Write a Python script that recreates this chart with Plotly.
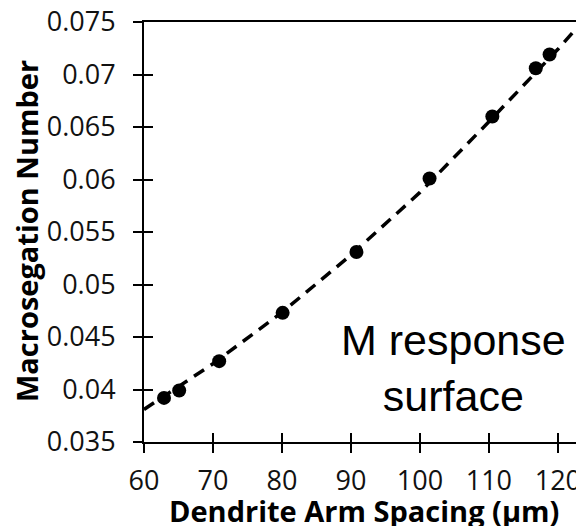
import plotly.graph_objects as go

# measured data points
das = [62.9, 65.1, 70.9, 80.1, 90.8, 101.4, 110.5, 116.8, 118.8]
mac_num = [0.0392, 0.0399, 0.0427, 0.0473, 0.0531, 0.0601, 0.0660, 0.0706, 0.0719]

# dashed trend line
trend_x = [60, 70, 80, 90, 100, 110, 120, 123.5]
trend_y = [0.0381, 0.04245, 0.04735, 0.0528, 0.05877, 0.0655, 0.0724, 0.0750]

x_ticks = [60, 70, 80, 90, 100, 110, 120]
y_ticks = [0.035, 0.04, 0.045, 0.05, 0.055, 0.06, 0.065, 0.07, 0.075]
y_ticktext = ["0.035", "0.04", "0.045", "0.05", "0.055", "0.06", "0.065", "0.07", "0.075"]

XR = [60, 123.5]
YR = [0.035, 0.075]

# page has an 8px body margin, so the figure is drawn 8px smaller / shifted
OFF = 8
W, H = 584 - OFF, 526 - OFF
L, R, T, B = 144 - OFF, 2, 22 - OFF, 84
PW, PH = W - L - R, H - T - B


def px(xp):
    return (xp - OFF - L) / PW


def py(yp):
    return (T + PH - (yp - OFF)) / PH


fig = go.Figure()
fig.add_trace(go.Scatter(x=trend_x, y=trend_y, mode="lines",
                         line=dict(color="black", width=3.5, dash="12px,8px"),
                         showlegend=False))
fig.add_trace(go.Scatter(x=das, y=mac_num, mode="markers",
                         marker=dict(color="black", size=14),
                         showlegend=False, cliponaxis=False))
# invisible trace for overlay axes (inside ticks)
fig.add_trace(go.Scatter(x=[XR[0]], y=[YR[0]], xaxis="x2", yaxis="y2",
                         mode="markers", marker=dict(opacity=0), showlegend=False,
                         hoverinfo="skip"))

tickfont = dict(family="Open Sans", size=27, color="#111")
fig.update_layout(
    width=W, height=H,
    margin=dict(l=L, r=R, t=T, b=B, autoexpand=False),
    paper_bgcolor="white", plot_bgcolor="white",
    xaxis=dict(range=XR, tickvals=x_ticks, ticks="outside", ticklen=9, tickwidth=2,
               tickcolor="black", showline=True, linewidth=2, linecolor="black",
               mirror=True, showgrid=False, zeroline=False, tickfont=tickfont,
               ticklabelstandoff=5, automargin=False, ticklabeloverflow="allow"),
    yaxis=dict(range=YR, tickvals=y_ticks, ticktext=y_ticktext, ticks="outside",
               ticklen=9, tickwidth=2, tickcolor="black", showline=True, linewidth=2,
               linecolor="black", showgrid=False, zeroline=False, tickfont=tickfont,
               ticklabelstandoff=12, automargin=False, ticklabeloverflow="allow"),
    xaxis2=dict(range=XR, overlaying="x", side="bottom", tickvals=x_ticks,
                ticks="inside", ticklen=9, tickwidth=2, tickcolor="black",
                showticklabels=False, showline=False, showgrid=False, zeroline=False,
                automargin=False),
    yaxis2=dict(range=YR, overlaying="y", side="left", tickvals=y_ticks,
                ticks="inside", ticklen=9, tickwidth=2, tickcolor="black",
                showticklabels=False, showline=False, showgrid=False, zeroline=False,
                automargin=False),
    annotations=[
        dict(text="M response<br>surface", xref="paper", yref="paper",
             x=px(453), y=py(368), xanchor="center", yanchor="middle",
             showarrow=False,
             font=dict(family="Liberation Sans", size=43, color="black")),
        dict(text="<b>Dendrite Arm Spacing (µm)</b>", xref="paper", yref="paper",
             x=px(364), y=py(510), xanchor="center", yanchor="middle",
             showarrow=False,
             font=dict(family="Open Sans", size=29, color="black")),
        dict(text="<b>Macrosegation Number</b>", xref="paper", yref="paper",
             x=px(26), y=py(231), xanchor="center", yanchor="middle", textangle=-90,
             showarrow=False,
             font=dict(family="Open Sans", size=29, color="black")),
    ],
)

fig.write_html("out.html")
